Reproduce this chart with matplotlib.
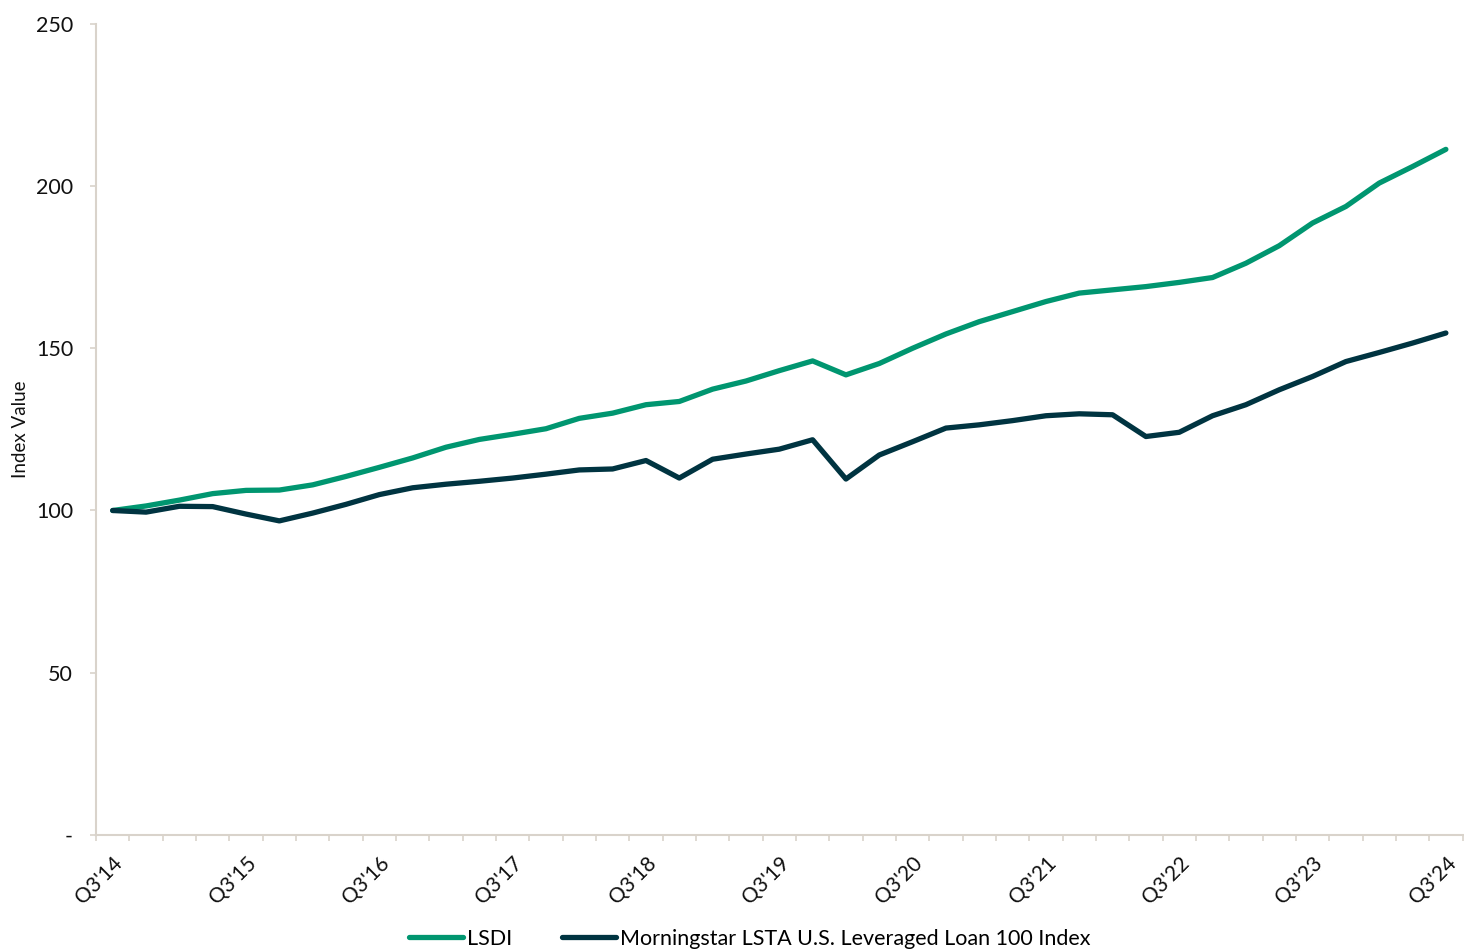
"""
Growth of LSDI vs. Morningstar LSTA U.S. Leveraged Loan 100 Index
(quarterly index values, Q3'14 = 100)
"""
import matplotlib
matplotlib.use("Agg")
import matplotlib.pyplot as plt
from matplotlib.ticker import FixedLocator, FuncFormatter

plt.rcParams['font.family'] = ['Lato', 'DejaVu Sans']

# Quarters Q3'14 .. Q3'24
quarters = []
for year in range(14, 25):
    for q in (1, 2, 3, 4):
        if (year == 14 and q < 3) or (year == 24 and q > 3):
            continue
        quarters.append(f"Q{q}'{year}")

# Index values
lsdi = [100.0, 101.4, 103.2, 105.2, 106.2, 106.3, 107.9, 110.5, 113.3, 116.2,
        119.5, 121.9, 123.5, 125.2, 128.4, 130.0, 132.6, 133.6, 137.4, 139.9,
        143.1, 146.1, 141.8, 145.3, 150.0, 154.4, 158.2, 161.3, 164.4, 167.0,
        168.0, 169.0, 170.3, 171.8, 176.2, 181.6, 188.6, 193.7, 200.9, 206.0,
        211.3]
lsta = [100.0, 99.5, 101.3, 101.2, 98.9, 96.8, 99.2, 101.9, 104.9, 107.0,
        108.1, 109.0, 110.0, 111.2, 112.5, 112.8, 115.4, 110.0, 115.8, 117.4,
        118.9, 121.8, 109.7, 117.1, 121.2, 125.4, 126.4, 127.7, 129.2, 129.8,
        129.5, 122.8, 124.1, 129.2, 132.6, 137.2, 141.3, 145.9, 148.7, 151.6,
        154.7]

green = '#009670'
navy = '#003441'
axis_col = '#D9D3CB'

fig = plt.figure(figsize=(14.64, 9.51), dpi=100)
ax = fig.add_axes([0.0656, 0.122, 0.9334, 0.853])

x = list(range(len(quarters)))
ax.plot(x, lsdi, color=green, lw=3.8, solid_capstyle='round', solid_joinstyle='round', label='LSDI')
ax.plot(x, lsta, color=navy, lw=3.8, solid_capstyle='round', solid_joinstyle='round',
        label='Morningstar LSTA U.S. Leveraged Loan 100 Index')

ax.set_xlim(-0.5, len(quarters) - 0.5)
ax.set_ylim(0, 250)

# y axis
ax.set_yticks([0, 50, 100, 150, 200, 250])
ax.yaxis.set_major_formatter(FuncFormatter(lambda v, p: '-' if v == 0 else f'{v:.0f}'))
ax.tick_params(axis='y', length=4.5, width=1.2, color=axis_col, labelsize=15.5, pad=12,
               labelcolor='#111111')
ax.set_ylabel('Index Value', fontsize=13.5, color='#111111')
ax.yaxis.set_label_coords(-0.049, 0.5)

# x axis: tick marks at quarter boundaries, labels every 4 quarters
label_pos = x[::4]
ax.xaxis.set_major_locator(FixedLocator(label_pos))
ax.set_xticklabels([quarters[i] for i in label_pos], rotation=45,
                   ha='right', rotation_mode='anchor', fontsize=15, color='#111111')
ax.tick_params(axis='x', which='major', length=0, pad=13)
ax.xaxis.set_minor_locator(FixedLocator([i - 0.5 for i in range(len(quarters) + 1)]))
ax.tick_params(axis='x', which='minor', length=4.5, width=1.2, color=axis_col)

for side in ('top', 'right'):
    ax.spines[side].set_visible(False)
for side in ('left', 'bottom'):
    ax.spines[side].set_color(axis_col)
    ax.spines[side].set_linewidth(1.5)

leg = fig.legend(loc='center', bbox_to_anchor=(0.512, 0.013), ncol=2, frameon=False,
                 fontsize=15.5, handlelength=2.5, handletextpad=0.2, columnspacing=2.3)

fig.savefig('out.png', dpi=100)
